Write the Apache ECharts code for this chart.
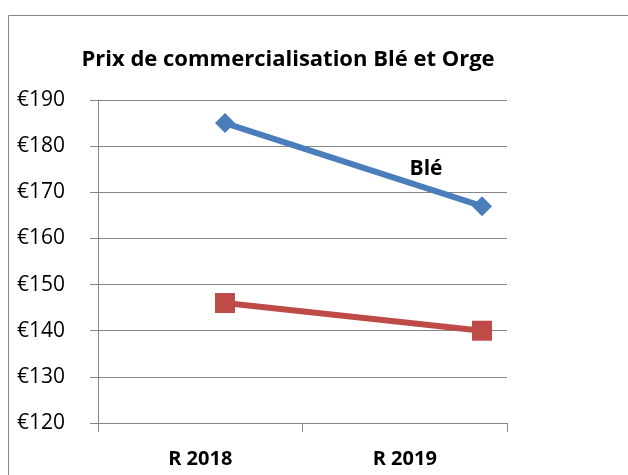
<!DOCTYPE html>
<html>
<head>
<meta charset="utf-8">
<script src="https://cdn.jsdelivr.net/npm/echarts@6/dist/echarts.min.js"></script>
<style>
  html, body { margin: 0; padding: 0; background: #fff; }
  #div-chart { width: 628px; height: 475px; }
</style>
</head>
<body>
<div id="div-chart"></div>
<script>
var categories = ['R 2018', 'R 2019'];
var ble = [185, 167];
var orge = [146, 140];
var yTicks = [120, 130, 140, 150, 160, 170, 180, 190];

var myChart = echarts.init(document.getElementById('div-chart'));

var font = '"Open Sans", "Noto Sans", sans-serif';
var gray = '#868686';

option = {
    backgroundColor: '#fff',
    animation: false,
    textStyle: { fontFamily: font },
    title: {
        text: 'Prix de commercialisation Blé et Orge',
        left: 283,
        textAlign: 'center',
        top: 44,
        textStyle: { fontSize: 22, fontWeight: 'bold', color: '#000', fontFamily: font }
    },
    // cadre de la zone du graphique
    graphic: [{
        type: 'rect',
        shape: { x: 8.5, y: 15.5, width: 700, height: 500 },
        style: { fill: 'none', stroke: gray, lineWidth: 1 },
        silent: true
    }],
    grid: [
        // axes visibles
        { left: 98, right: 121, top: 100, bottom: 52 },
        // courbes
        { left: 225, right: 146, top: 100, bottom: 52 }
    ],
    xAxis: [
        {
            gridIndex: 0,
            type: 'category',
            data: categories,
            boundaryGap: true,
            axisLine: { lineStyle: { color: gray, width: 1 } },
            axisTick: { show: true, length: 9, lineStyle: { color: gray } },
            axisLabel: { margin: 26, fontSize: 20, fontWeight: 'bold', color: '#000', fontFamily: font }
        },
        {
            gridIndex: 1,
            type: 'category',
            data: categories,
            boundaryGap: false,
            show: false
        }
    ],
    yAxis: [
        {
            gridIndex: 0,
            type: 'value',
            min: yTicks[0],
            max: yTicks[yTicks.length - 1],
            interval: 10,
            axisLine: { show: true, lineStyle: { color: gray, width: 1 } },
            axisTick: { show: true, length: 8, lineStyle: { color: gray } },
            splitLine: { show: true, lineStyle: { color: gray, width: 1 } },
            axisLabel: {
                margin: 33,
                fontSize: 21,
                color: '#000',
                fontFamily: font,
                formatter: '€{value}'
            }
        },
        {
            gridIndex: 1,
            type: 'value',
            min: yTicks[0],
            max: yTicks[yTicks.length - 1],
            interval: 10,
            show: false,
            splitLine: { show: false }
        }
    ],
    series: [
        {
            name: 'Blé',
            type: 'line',
            xAxisIndex: 1,
            yAxisIndex: 1,
            data: [ble[0], {
                value: ble[1],
                label: {
                    show: true,
                    formatter: '{a}',
                    offset: [-56, -12],
                    fontSize: 21,
                    fontWeight: 'bold',
                    color: '#000',
                    fontFamily: font
                }
            }],
            symbol: 'diamond',
            symbolSize: 20,
            lineStyle: { color: '#4a7ebb', width: 6 },
            itemStyle: { color: '#4a7ebb' }
        },
        {
            name: 'Orge',
            type: 'line',
            xAxisIndex: 1,
            yAxisIndex: 1,
            data: orge,
            symbol: 'rect',
            symbolSize: 20,
            lineStyle: { color: '#be4b48', width: 6 },
            itemStyle: { color: '#be4b48' }
        }
    ]
};

myChart.setOption(option);
</script>
</body>
</html>
